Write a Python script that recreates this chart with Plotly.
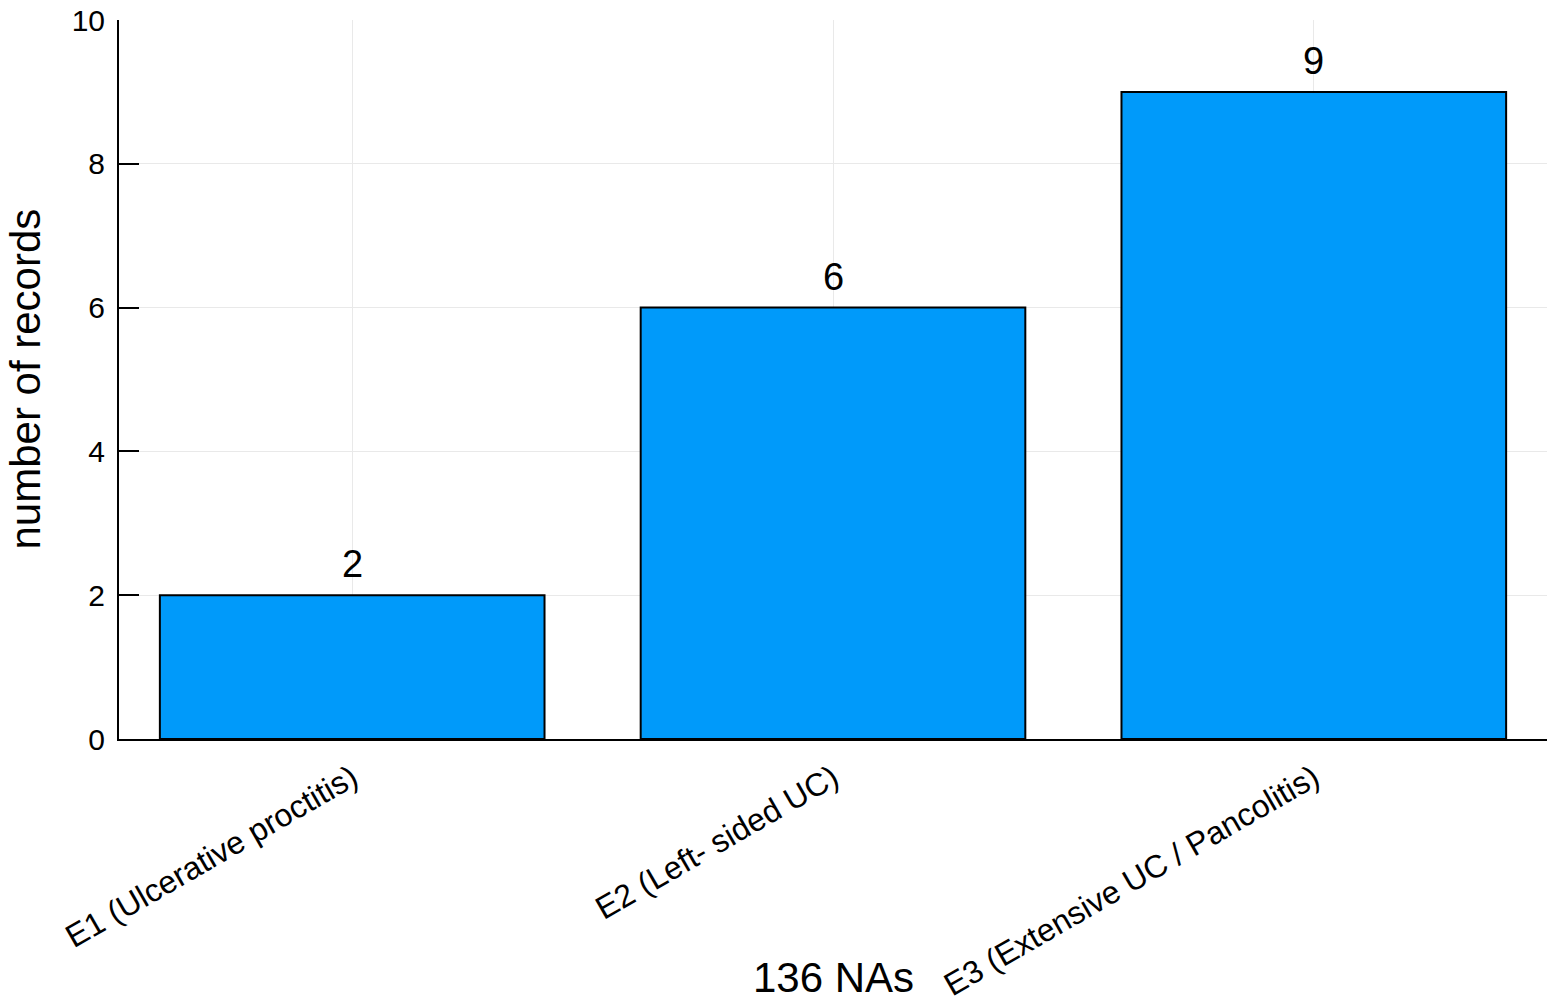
import plotly.graph_objects as go

categories = ["E1 (Ulcerative proctitis)", "E2 (Left- sided UC)", "E3 (Extensive UC / Pancolitis)"]
counts = [2, 6, 9]
y_ticks = [0, 2, 4, 6, 8, 10]
x_title = "136 NAs"
y_title = "number of records"

FONT = "Liberation Sans, Arial, Helvetica, sans-serif"
xs = list(range(len(categories)))

fig = go.Figure()
fig.add_trace(go.Bar(
    x=xs, y=counts, width=0.8,
    marker=dict(color="#009AFA", line=dict(color="black", width=2)),
    showlegend=False, hoverinfo="y",
))

for xi, v in zip(xs, counts):
    fig.add_annotation(x=xi, y=v, xref="x", yref="y", text=str(v), showarrow=False,
                       yanchor="middle", yshift=31, font=dict(size=38, color="black", family=FONT))

fig.add_annotation(x=0.5, y=0, xref="paper", yref="paper", text=x_title, showarrow=False,
                   yanchor="middle", xanchor="center", yshift=-238,
                   font=dict(size=42, color="black", family=FONT))
fig.add_annotation(x=0, y=0.5, xref="paper", yref="paper", text=y_title, showarrow=False,
                   textangle=-90, xanchor="center", yanchor="middle", xshift=-94,
                   font=dict(size=42, color="black", family=FONT))

fig.update_layout(
    width=1547, height=1003,
    margin=dict(l=119, r=0, t=20, b=259),
    paper_bgcolor="white", plot_bgcolor="white",
    font=dict(family=FONT, color="black"),
    bargap=0.2,
)
fig.update_xaxes(
    range=[-0.485, 2.485], tickmode="array", tickvals=xs, ticktext=categories,
    tickangle=-30, tickfont=dict(size=32, family=FONT, color="black"),
    ticklabelstandoff=6, ticklabeloverflow="allow",
    showgrid=True, gridcolor="#e9e9e9", gridwidth=1,
    showline=True, linecolor="black", linewidth=2,
    ticks="", zeroline=False, fixedrange=True,
)
fig.update_yaxes(
    range=[0, 10], tickmode="array", tickvals=y_ticks,
    tickfont=dict(size=30, family=FONT, color="black"),
    showgrid=True, gridcolor="#e9e9e9", gridwidth=1,
    showline=True, linecolor="black", linewidth=2,
    ticks="inside", ticklen=20, tickwidth=2, tickcolor="black",
    ticklabelstandoff=6, ticklabeloverflow="allow",
    zeroline=False, fixedrange=True,
)

# remove the browser's default 8px body margin so the figure fills the window exactly
fig.write_html("out.html", config={"displayModeBar": False},
               post_script="document.body.style.margin='0';document.body.style.overflow='hidden';")
